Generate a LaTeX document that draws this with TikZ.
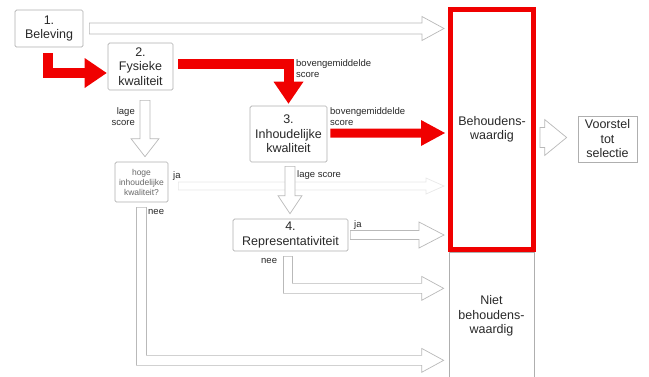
\documentclass[tikz,border=0pt]{standalone}
\usepackage{fontspec}
\setmainfont{Liberation Sans}
\usetikzlibrary{calc}
\definecolor{boxgray}{RGB}{175,175,175}
\definecolor{txt}{RGB}{40,40,40}
\definecolor{arrred}{RGB}{240,0,0}
\tikzset{
  box/.style={draw=boxgray, line width=0.7pt, fill=white, rounded corners=1.5pt, align=center,
    font=\fontsize{12.5}{14.5}\selectfont, text=txt, inner sep=0pt},
  lbl/.style={font=\fontsize{9.5}{11}\selectfont, text=txt, inner sep=0pt, align=left},
  hol/.style={draw=gray!55, fill=white, line width=0.7pt},
  redline/.style={draw=arrred, line width=10pt},
}
% horizontal hollow arrow: [opt]{start}{tip}{shaft half}{head half}{head length}
\newcommand\HArrow[6][]{%
  \draw[hol,#1] let \p1=(#2), \p2=(#3) in
   (\x1,\y1+#4) -- (\x2-#6,\y1+#4) -- (\x2-#6,\y1+#5) -- (\x2,\y1) --
   (\x2-#6,\y1-#5) -- (\x2-#6,\y1-#4) -- (\x1,\y1-#4) -- cycle;}
% vertical (downward) hollow arrow
\newcommand\VArrow[6][]{%
  \draw[hol,#1] let \p1=(#2), \p2=(#3) in
   (\x1-#4,\y1) -- (\x1-#4,\y2+#6) -- (\x1-#5,\y2+#6) -- (\x1,\y2) --
   (\x1+#5,\y2+#6) -- (\x1+#4,\y2+#6) -- (\x1+#4,\y1) -- cycle;}
\begin{document}
\begin{tikzpicture}[x=1pt,y=-1pt]
\useasboundingbox (0,0) rectangle (649,376);
\clip (0,0) rectangle (649,376);

% boxes
\node[box, minimum width=68, minimum height=37] (b1) at (49,28.5) {1.\\Beleving};
\node[box, minimum width=65, minimum height=47] (b2) at (140.5,66.5) {2.\\Fysieke\\kwaliteit};
\node[box, minimum width=77, minimum height=56] (b3) at (288.5,134) {3.\\Inhoudelijke\\kwaliteit};
\node[box, minimum width=53, minimum height=40, font=\fontsize{8.5}{10}\selectfont, text=txt!70] (sb) at (141.5,182) {hoge\\inhoudelijke\\kwaliteit?};
\node[box, minimum width=115, minimum height=32] (b4) at (290.5,235) {4.\\Representativiteit};
\node[box, rounded corners=0pt, minimum width=85, minimum height=128] (nb) at (491.5,316) {Niet\\behoudens-\\waardig};
\node[draw=arrred, line width=5pt, minimum width=83, minimum height=240, align=center,
  font=\fontsize{12.5}{14.5}\selectfont, text=txt, inner sep=0pt] (rb) at (492,129.5) {Behoudens-\\waardig};
\node[box, rounded corners=0pt, minimum width=59, minimum height=46] (vs) at (607.5,139) {Voorstel\\tot\\selectie};

% hollow arrows
\HArrow{$(b1.east)+(6,0)$}{$(rb.west)+(-4,0)$}{5.5pt}{12pt}{22pt}
\HArrow[draw=gray!18]{$(sb.east)+(10,4)$}{$(rb.west)+(-4,0)$}{4pt}{8pt}{18pt}
\HArrow{$(b4.east)+(2,0)$}{$(rb.west)+(-4,0)$}{4.5pt}{13pt}{25pt}
\VArrow{$(b2.south)+(4.5,10)$}{$(sb.north)+(0,-5)$}{5pt}{14pt}{18pt}
\VArrow{$(b3.south)+(1.5,4)$}{$(b4.north)+(0,-5)$}{5pt}{12pt}{18pt}
\HArrow{$(rb.east)+(4,8)$}{$(vs.west)+(-11,0)$}{10pt}{18pt}{22pt}
% bent hollow arrows ("nee")
\draw[hol] let \p1=($(b4.south)+(-2.5,5)$), \p2=($(nb.west)+(-5,0)$) in
  (\x1-4.5pt,\y1) -- (\x1-4.5pt,\y1-37pt) -- (\x2-22pt,\y1-37pt) -- (\x2-22pt,\y1-44pt) --
  (\x2,\y1-32pt) -- (\x2-22pt,\y1-20pt) -- (\x2-22pt,\y1-27pt) -- (\x1+4.5pt,\y1-27pt) --
  (\x1+4.5pt,\y1) -- cycle;
\draw[hol] let \p1=($(sb.south)+(0,5)$), \p2=($(nb.west)+(-5,0)$) in
  (\x1-5pt,\y1) -- (\x1-5pt,\y1-158pt) -- (\x2-22pt,\y1-158pt) -- (\x2-22pt,\y1-165pt) --
  (\x2,\y1-153pt) -- (\x2-22pt,\y1-141pt) -- (\x2-22pt,\y1-148pt) -- (\x1+5pt,\y1-148pt) --
  (\x1+5pt,\y1) -- cycle;

% red arrows
\draw[redline] ($(b1.south)+(-1,6)$) |- ($(b2.west)+(-23,6.5)$) coordinate (h1);
\fill[arrred] let \p1=(h1) in (\x1,\y1+15pt) -- (\x1+22pt,\y1) -- (\x1,\y1-15pt) -- cycle;
\draw[redline] ($(b2.east)+(5,-2.5)$) -| ($(b3.north)+(0,-24)$) coordinate (h2);
\fill[arrred] let \p1=(h2) in (\x1-15pt,\y1) -- (\x1,\y1-22pt) -- (\x1+15pt,\y1) -- cycle;
\HArrow[draw=none, fill=arrred]{$(b3.east)+(3,-1)$}{$(rb.west)+(-3,0)$}{4.5pt}{13pt}{24pt}

% labels
\node[lbl, anchor=west] (l1) at (296,69) {bovengemiddelde\\score};
\node[lbl, anchor=west] (l2) at (330,117) {bovengemiddelde\\score};
\node[lbl, anchor=east, align=right] (l3) at (135,117) {lage\\score};
\node[lbl, anchor=west] (l4) at (297,175) {lage score};
\node[lbl, anchor=west] (l5) at (173,176) {ja};
\node[lbl, anchor=west] (l6) at (148,212) {nee};
\node[lbl, anchor=west] (l7) at (354,225) {ja};
\node[lbl, anchor=west] (l8) at (261,261) {nee};
\end{tikzpicture}
\end{document}
